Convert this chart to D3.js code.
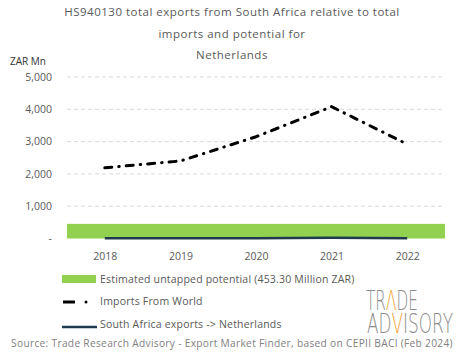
<!DOCTYPE html>
<html>
<head>
<meta charset="utf-8">
<script src="https://cdn.jsdelivr.net/npm/d3@7"></script>
<style>
  body { margin: 0; background: #fff; }
  text { font-family: "Open Sans", Lato, sans-serif; }
</style>
</head>
<body>
<div class="chart"></div>
<script>
var svgWidth = 465;
var svgHeight = 359;

// data
var years = ["2018", "2019", "2020", "2021", "2022"];
var importsWorld = [2190, 2400, 3150, 4080, 2920];
var saExports = [8, 8, 10, 20, 6];
var untappedPotential = 453.3;
var yTicks = [0, 1000, 2000, 3000, 4000, 5000];

var margin = { top: 77, right: 20, bottom: 121, left: 67 };
var width = 445 - margin.left;
var height = 238.5 - margin.top;

var svg = d3.select(".chart")
  .append("svg")
  .attr("width", svgWidth)
  .attr("height", svgHeight);

// title
var titleLines = ["HS940130 total exports from South Africa relative to total",
  "imports and potential for", "Netherlands"];
svg.append("g").selectAll("text")
  .data(titleLines)
  .enter()
  .append("text")
  .attr("x", 232)
  .attr("y", (d, i) => 16 + i * 21.5)
  .attr("text-anchor", "middle")
  .attr("font-size", 11.5)
  .attr("letter-spacing", 0.5)
  .attr("fill", "#595959")
  .text(d => d);

var chartGroup = svg.append("g")
  .attr("transform", `translate(${margin.left}, ${margin.top})`);

var xScale = d3.scalePoint()
  .domain(years)
  .range([0, width])
  .padding(0.5);

var yScale = d3.scaleLinear()
  .domain([0, 5000])
  .range([height, 0]);

// gridlines
chartGroup.append("g").selectAll("line")
  .data(yTicks.filter(d => d > 0))
  .enter()
  .append("line")
  .attr("x1", 0)
  .attr("x2", width)
  .attr("y1", d => yScale(d))
  .attr("y2", d => yScale(d))
  .attr("stroke", "#d9d9d9")
  .attr("stroke-width", 1)
  .attr("stroke-dasharray", "4,3");

// y axis labels
var leftAxis = d3.axisLeft(yScale)
  .tickValues(yTicks)
  .tickSize(0)
  .tickPadding(15)
  .tickFormat(d => d === 0 ? "-" : d3.format(",")(d));
var yAxis = chartGroup.append("g").call(leftAxis);
yAxis.select(".domain").remove();
yAxis.selectAll("text")
  .attr("font-size", 10.5)
  .attr("fill", "#595959")
  .style("font-family", "'Open Sans', sans-serif");

svg.append("text")
  .attr("x", 10)
  .attr("y", 65)
  .attr("font-size", 10)
  .attr("fill", "#333")
  .text("ZAR Mn");

// potential bar
chartGroup.append("rect")
  .attr("x", 0)
  .attr("y", yScale(untappedPotential))
  .attr("width", width)
  .attr("height", yScale(0) - yScale(untappedPotential))
  .attr("fill", "#92d050");

// lines
var line = d3.line()
  .x((d, i) => xScale(years[i]))
  .y(d => yScale(d));

chartGroup.append("path")
  .datum(saExports)
  .attr("d", line)
  .attr("fill", "none")
  .attr("stroke", "#1f3c4f")
  .attr("stroke-width", 2.5);

chartGroup.append("path")
  .datum(importsWorld)
  .attr("d", line)
  .attr("fill", "none")
  .attr("stroke", "#000")
  .attr("stroke-width", 3)
  .attr("stroke-linecap", "round")
  .attr("stroke-dasharray", "7,7,0.5,7");

// x axis
var bottomAxis = d3.axisBottom(xScale).tickSize(0).tickPadding(14);
var xAxis = chartGroup.append("g")
  .attr("transform", `translate(0, ${height})`)
  .call(bottomAxis);
xAxis.select(".domain").remove();
xAxis.selectAll("text")
  .attr("font-size", 10.5)
  .attr("fill", "#595959")
  .style("font-family", "'Open Sans', sans-serif");

// legend
var legend = svg.append("g");
legend.append("rect")
  .attr("x", 62).attr("y", 275)
  .attr("width", 34).attr("height", 8)
  .attr("fill", "#92d050");
legend.append("text")
  .attr("x", 100).attr("y", 283)
  .attr("font-size", 10.5).attr("letter-spacing", 0.2).attr("fill", "#595959")
  .text("Estimated untapped potential (453.30 Million ZAR)");

legend.append("line")
  .attr("x1", 63).attr("x2", 75).attr("y1", 302).attr("y2", 302)
  .attr("stroke", "#000").attr("stroke-width", 3);
legend.append("circle")
  .attr("cx", 86).attr("cy", 302).attr("r", 1.5)
  .attr("fill", "#000");
legend.append("text")
  .attr("x", 100).attr("y", 305)
  .attr("font-size", 10.5).attr("letter-spacing", 0.2).attr("fill", "#595959")
  .text("Imports From World");

legend.append("line")
  .attr("x1", 62).attr("x2", 97).attr("y1", 327).attr("y2", 327)
  .attr("stroke", "#1f3c4f").attr("stroke-width", 2.5);
legend.append("text")
  .attr("x", 100).attr("y", 328)
  .attr("font-size", 10.5).attr("letter-spacing", 0.2).attr("fill", "#595959")
  .text("South Africa exports -> Netherlands");

// logo: pieces laid side by side, then squeezed to the logo width
var logoRows = [
  { x: 366, y: 310, w: 52, parts: [["TR", "#8c8c8c"], ["Λ", "#f0a030"], ["DE", "#8c8c8c"]] },
  { x: 367, y: 333, w: 86, parts: [["AD", "#8c8c8c"], ["V", "#f0a030"], ["ISORY", "#8c8c8c"]] }
];
logoRows.forEach(function(row) {
  var g = svg.append("g");
  var cx = 0;
  row.parts.forEach(function(p) {
    var t = g.append("text")
      .attr("x", cx).attr("y", 0)
      .attr("font-size", 26)
      .attr("fill", p[1])
      .style("font-family", "'DejaVu Sans', sans-serif")
      .style("font-weight", 300)
      .text(p[0]);
    cx += t.node().getComputedTextLength();
  });
  g.attr("transform", `translate(${row.x}, ${row.y}) scale(${row.w / cx}, 1)`);
});

// source
svg.append("text")
  .attr("x", 232).attr("y", 347)
  .attr("text-anchor", "middle")
  .attr("font-size", 10.2).attr("letter-spacing", 0.3).attr("fill", "#7f7f7f")
  .text("Source: Trade Research Advisory - Export Market Finder, based on CEPII BACI (Feb 2024)");
</script>
</body>
</html>
